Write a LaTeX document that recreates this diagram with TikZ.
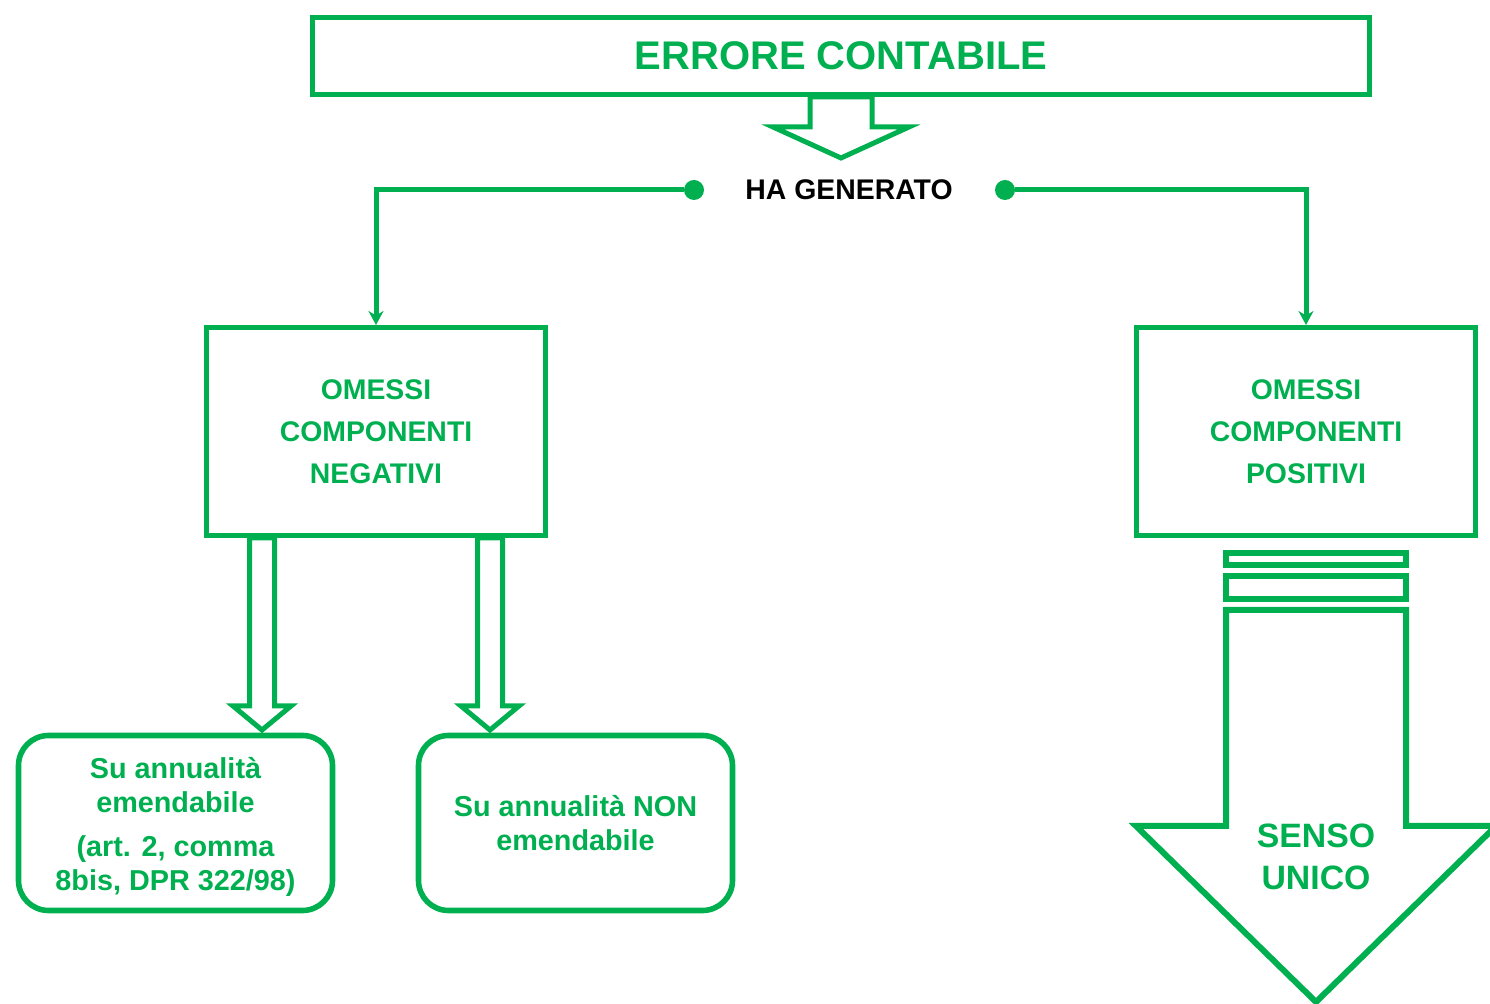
\documentclass[tikz,border=0pt]{standalone}
\usepackage{fontspec}
\setmainfont{Liberation Sans}
\usetikzlibrary{calc,arrows.meta}
\definecolor{verde}{RGB}{0,176,80}
\def\blockarrow[#1](#2)(#3)(#4:#5:#6){\draw[#1] let \p1=(#2), \p2=(#3) in (\x1-#4,\y1) -- (\x1-#4,\y2+#6) -- (\x1-#5,\y2+#6) -- (\x1,\y2) -- (\x1+#5,\y2+#6) -- (\x1+#4,\y2+#6) -- (\x1+#4,\y1) -- cycle;}

\begin{document}
\begin{tikzpicture}[x=0.5pt,y=-0.5pt,
		box/.style={draw=verde,line width=2.5pt,text=verde,font=\bfseries\fontsize{14.2}{21}\selectfont,align=center,inner sep=0pt},
		rbox/.style={box,rounded corners=15pt,line width=2.8pt,minimum width=157pt,minimum height=87.5pt,font=\bfseries\fontsize{14.4}{17}\selectfont},
		dot/.style={circle,fill=verde,minimum size=10pt,inner sep=0pt},
		conn/.style={draw=verde,line width=2.5pt,-{Stealth[length=7pt,width=7.5pt]}},
		hollow/.style={draw=verde,line width=2.5pt},
		bigarrow/.style={draw=verde,line width=3pt}]
			%%%%% START %%%%%
			
			\useasboundingbox (0,0) rectangle (1490,1004);
			\clip (0,0) rectangle (1490,1004);
			
			\node[box,minimum width=528.5pt,minimum height=38.5pt,font=\bfseries\fontsize{20}{24}\selectfont] (errore) at (841,56) {ERRORE CONTABILE};
			\coordinate (tipE) at (841,158);
			\blockarrow[hollow](errore.south)(tipE)(15.5pt:34pt:15.5pt)
			
			\node[font=\bfseries\fontsize{14.2}{17}\selectfont] (hagen) at (849,190) {HA GENERATO};
			\node[dot] (dotL) at (694,190) {};
			\node[dot] (dotR) at (1005,190) {};
			
			\node[box,minimum width=169.5pt,minimum height=104pt] (negativi) at (376,431.5) {OMESSI\\COMPONENTI\\NEGATIVI};
			\node[box,minimum width=169.5pt,minimum height=104pt] (positivi) at (1306,431.5) {OMESSI\\COMPONENTI\\POSITIVI};
			
			\draw[conn] (dotL) -| (negativi.north);
			\draw[conn] (dotR) -| (positivi.north);
			
			\node[rbox] (emend) at (175.5,823) {\rule{0pt}{14.5pt}Su annualità\\emendabile\\[5pt](art. 2, comma\\8bis, DPR 322/98)};
			\node[rbox] (nonemend) at (575.5,823) {Su annualità NON\\emendabile};
			
			\coordinate (tipA) at (262,730);
			\coordinate (tipB) at (490,730);
			\blockarrow[hollow](negativi.south -| tipA)(tipA)(6.25pt:14.5pt:12pt)
			\blockarrow[hollow](negativi.south -| tipB)(tipB)(6.25pt:14.5pt:12pt)
			
			\draw[bigarrow] (1226,553) rectangle (1406,565);
			\draw[bigarrow] (1226,576) rectangle (1406,599);
			\coordinate (sensoTop) at (1316,610);
			\coordinate (sensoTip) at (1316,1002);
			\blockarrow[bigarrow](sensoTop)(sensoTip)(45pt:90pt:88pt)
			\node[text=verde,align=center,font=\bfseries\fontsize{16.9}{21}\selectfont] (senso) at (1316,857) {SENSO\\UNICO};
			
			%%%%% END %%%%%
		\end{tikzpicture}
\end{document}
